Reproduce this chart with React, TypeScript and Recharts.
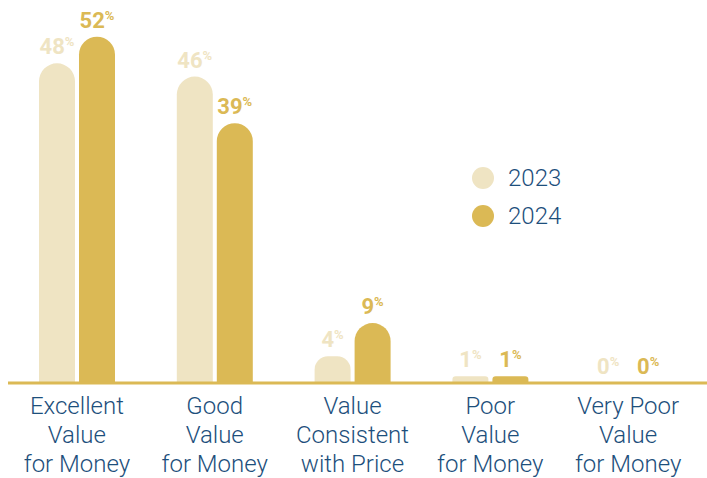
import { BarChart, Bar, XAxis, YAxis, Rectangle } from "recharts";

const categories = [
  "Excellent\nValue\nfor Money",
  "Good\nValue\nfor Money",
  "Value\nConsistent\nwith Price",
  "Poor\nValue\nfor Money",
  "Very Poor\nValue\nfor Money",
];
const values2023 = [48, 46, 4, 1, 0];
const values2024 = [52, 39, 9, 1, 0];
const seriesNames = ["2023", "2024"];

const LIGHT = "#efe4c3";
const GOLD = "#dbb955";
const NAVY = "#1d4f7c";

const data = categories.map((name, i) => ({
  name,
  y2023: values2023[i],
  y2024: values2024[i],
}));

function CategoryTick({ x, y, payload }: any) {
  const lines = String(payload.value).split("\n");
  return (
    <text x={x} y={y} textAnchor="middle" fill={NAVY} fontSize={24} fontFamily="Roboto" fontWeight={300}>
      {lines.map((line, i) => (
        <tspan key={i} x={x} dy={i === 0 ? 23 : 29}>
          {line}
        </tspan>
      ))}
    </text>
  );
}

// bar + value label together, so zero-height bars still get their label
function makeShape(color: string) {
  return function BarWithLabel(props: any) {
    const { x, y, width, height, value } = props;
    const cx = Number(x) + Number(width) / 2;
    const v = Array.isArray(value) ? value[1] - value[0] : value;
    return (
      <g>
        {height > 0 && <Rectangle {...props} fill={color} />}
        <text x={cx} y={Number(y) - 9} textAnchor="middle" fill={color} fontFamily="Roboto" fontWeight={700}>
          <tspan fontSize={22}>{v}</tspan>
          <tspan fontSize={13} dy={-8}>%</tspan>
        </text>
      </g>
    );
  };
}

function LegendBox() {
  const colors = [LIGHT, GOLD];
  return (
    <div style={{ position: "absolute", left: 472, top: 159 }}>
      {seriesNames.map((s, i) => (
        <div key={s} style={{ display: "flex", alignItems: "center", height: 38 }}>
          <span style={{ width: 22, height: 22, borderRadius: 11, background: colors[i], display: "inline-block" }} />
          <span style={{ marginLeft: 14, fontSize: 24, color: NAVY, fontFamily: "Roboto", fontWeight: 300 }}>{s}</span>
        </div>
      ))}
    </div>
  );
}

export default function App() {
  return (
    <div style={{ position: "relative", width: 707, height: 478, background: "#fff" }}>
      <style>{`body{margin:0}`}</style>
      <BarChart
        width={707}
        height={478}
        data={data}
        margin={{ top: 10, right: 0, left: 8, bottom: 0 }}
        barSize={36}
        barGap={4}
      >
        <XAxis
          dataKey="name"
          height={95}
          interval={0}
          padding={{ left: 0, right: 10 }}
          tickLine={false}
          axisLine={{ stroke: GOLD, strokeWidth: 3 }}
          tick={<CategoryTick />}
        />
        <YAxis hide domain={[0, 56]} />
        <Bar dataKey="y2023" name="2023" fill={LIGHT} radius={[18, 18, 0, 0]} isAnimationActive={false} shape={makeShape(LIGHT)} />
        <Bar dataKey="y2024" name="2024" fill={GOLD} radius={[18, 18, 0, 0]} isAnimationActive={false} shape={makeShape(GOLD)} />
      </BarChart>
      <LegendBox />
    </div>
  );
}
